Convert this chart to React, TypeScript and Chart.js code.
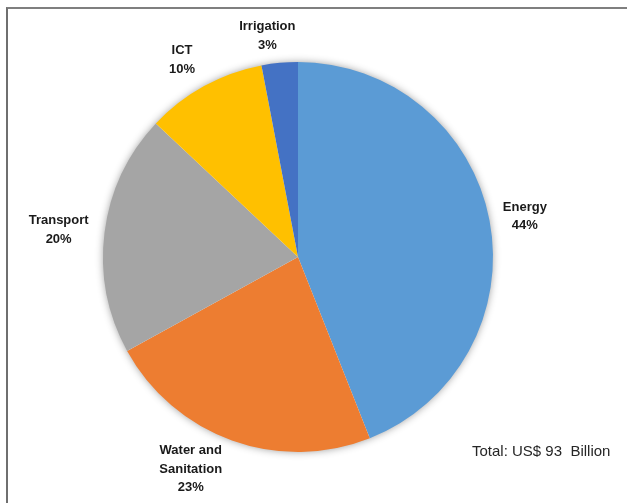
import React, { useEffect, useRef } from "react";
import { Chart, registerables } from "chart.js";

Chart.register(...registerables);

const categories = ["Energy", "Water and Sanitation", "Transport", "ICT", "Irrigation"];
const labelLines = [["Energy"], ["Water and", "Sanitation"], ["Transport"], ["ICT"], ["Irrigation"]];
const shares = [44, 23, 20, 10, 3];
const colors = ["#5B9BD5", "#ED7D31", "#A5A5A5", "#FFC000", "#4472C4"];
const totalNote = "Total: US$ 93  Billion";

// label placement tweaks mimicking the spreadsheet's best-fit placement
const labelAngleNudge = [0.6, 7, -0.8, -1.7, -2.5];
const labelGap = [10.5, 4, 14, 11, 6];

const FONT = "'Liberation Sans', Arial, sans-serif";

const pieDecor = {
  id: "pieDecor",
  beforeDatasetsDraw(chart: any) {
    const meta = chart.getDatasetMeta(0);
    const a = meta.data[0];
    if (!a) return;
    const { x, y, outerRadius } = a.getProps(["x", "y", "outerRadius"], true);
    const ctx = chart.ctx;
    ctx.save();
    ctx.shadowColor = "rgba(0,0,0,0.45)";
    ctx.shadowBlur = 9;
    ctx.fillStyle = "#ffffff";
    ctx.beginPath();
    ctx.arc(x, y, outerRadius - 1, 0, Math.PI * 2);
    ctx.fill();
    ctx.restore();
  },
  afterDatasetsDraw(chart: any) {
    const meta = chart.getDatasetMeta(0);
    const ctx = chart.ctx;
    const data = chart.data.datasets[0].data as number[];
    const total = data.reduce((s, v) => s + v, 0);
    ctx.save();
    ctx.font = `bold 13px ${FONT}`;
    ctx.fillStyle = "#1a1a1a";
    ctx.textAlign = "center";
    ctx.textBaseline = "middle";
    const lineH = 18.5;
    meta.data.forEach((arc: any, i: number) => {
      const { x, y, startAngle, endAngle, outerRadius } = arc.getProps(
        ["x", "y", "startAngle", "endAngle", "outerRadius"],
        true
      );
      const mid = (startAngle + endAngle) / 2 + (labelAngleNudge[i] * Math.PI) / 180;
      const ux = Math.cos(mid);
      const uy = Math.sin(mid);
      const lines = [...labelLines[i], Math.round((data[i] / total) * 100) + "%"];
      const w = Math.max(...lines.map((l) => ctx.measureText(l).width));
      const h = lines.length * lineH;
      const extent = Math.abs(ux) * (w / 2) + Math.abs(uy) * (h / 2);
      const d = outerRadius + labelGap[i] + extent;
      const cx = x + ux * d;
      const cy = y + uy * d;
      lines.forEach((l, k) => {
        ctx.fillText(l, cx, cy - h / 2 + lineH * (k + 0.5));
      });
    });
    ctx.font = `15px ${FONT}`;
    ctx.fillStyle = "#262626";
    ctx.textAlign = "left";
    ctx.textBaseline = "alphabetic";
    ctx.fillText(totalNote, 472, 456);
    ctx.restore();
  },
};

export default function App() {
  const ref = useRef<HTMLCanvasElement | null>(null);
  useEffect(() => {
    if (!ref.current) return;
    const chart = new Chart(ref.current, {
      type: "pie",
      data: {
        labels: categories,
        datasets: [
          {
            data: shares,
            backgroundColor: colors,
            borderWidth: 0,
          },
        ],
      },
      options: {
        responsive: false,
        animation: false,
        layout: { padding: { left: 103, right: 134, top: 62, bottom: 51 } },
        plugins: {
          legend: { display: false },
          tooltip: { enabled: false },
          title: { display: false },
        },
      },
      plugins: [pieDecor],
    });
    return () => chart.destroy();
  }, []);
  return (
    <div style={{ position: "fixed", left: 0, top: 0, width: 627, height: 503, background: "#fff", overflow: "hidden" }}>
      <div
        style={{
          position: "absolute",
          left: 6,
          top: 7,
          width: 640,
          height: 520,
          borderTop: "2px solid #7f7f7f",
          borderLeft: "2px solid #6f6f6f",
          boxSizing: "border-box",
        }}
      />
      <canvas ref={ref} width={627} height={503} style={{ position: "absolute", left: 0, top: 0 }} />
    </div>
  );
}
